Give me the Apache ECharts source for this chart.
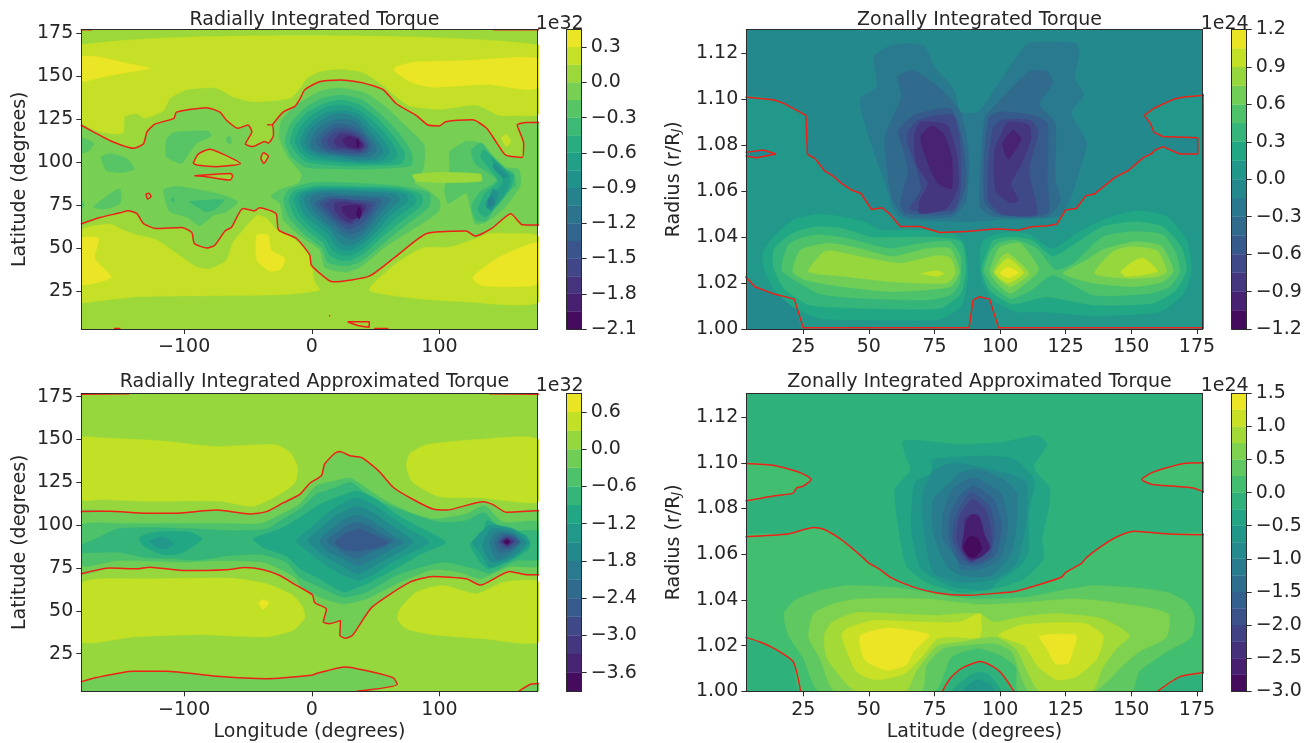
<!DOCTYPE html>
<html><head><meta charset="utf-8">
<style>html,body{margin:0;padding:0;background:#fff}#c{width:1312px;height:743px}</style>
<script src="https://cdn.jsdelivr.net/npm/echarts@6/dist/echarts.min.js"></script></head>
<body><div id="c"></div><script>
// ---------- tick labels and colour levels ----------
const lonTicks=[-100,0,100], latTicks=[25,50,75,100,125,150,175];
const angTicks=[25,50,75,100,125,150,175], radTicks=[1.00,1.02,1.04,1.06,1.08,1.10,1.12];
const tlLevels={lo:-2.1,step:0.15,n:17}, trLevels={lo:-1.2,step:0.15,n:16};
const blLevels={lo:-3.9,step:0.3,n:16}, brLevels={lo:-3,step:0.25,n:18};
const tlCbTicks=[0.3,0,-0.3,-0.6,-0.9,-1.2,-1.5,-1.8,-2.1];
const trCbTicks=[1.2,0.9,0.6,0.3,0,-0.3,-0.6,-0.9,-1.2];
const blCbTicks=[0.6,0,-0.6,-1.2,-1.8,-2.4,-3.0,-3.6];
const brCbTicks=[1.5,1,0.5,0,-0.5,-1,-1.5,-2,-2.5,-3];

// ---------- top-left: filled bands [band index, [[lon,lat],...]] ----------
const tlBase=14;
const tlRegions=[
[15,[[-181,123.4],[-166,117.6],[-148,116.7],[-146.5,126.4],[-137,128],[-131,125.4],[-116,130],[-111,137],[-98,142],[-75,143],[-62,138],[-46,135],[-17,137],[-9,143],[-4,148.6],[6,152.5],[22,154],[40,152],[53,146],[66,138],[77,132.5],[100,130.6],[129,133],[147,127],[160,127],[178,128],[178,168],[-181,168]]],
[16,[[-181,161],[-166,161],[-145,157.4],[-127,154.5],[-145,152],[-166,149],[-181,147]]],
[16,[[65,155],[79,158],[121,159],[178,160],[178,143.4],[168,142],[137,145],[95,143.4],[79,146],[65,152.5]]],
[15,[[-181,60],[-158,64],[-148,60.6],[-138,57.8],[-122,55],[-106,47],[-90,39],[-80,38],[-67,43],[-62,53],[-51,63],[-43,69],[-35,67],[-28,61],[-17,57],[-9,52],[-1,44],[2,31],[6,25.6],[-20,23],[-71,22.3],[-137,21.7],[-170,19],[-181,18.8]]],
[15,[[45,25.6],[66,41],[87,50],[108,50.6],[129,55.6],[139,58.5],[152,58.5],[178,56.5],[178,18.7],[121,18.7],[82,20.7]]],
[16,[[-181,55.6],[-167,55.6],[-170,44],[-157,33],[-181,29]]],
[16,[[-43,57.6],[-34,57.6],[-32,49],[-21,44],[-24,38],[-33,36.6],[-43,43]]],
[16,[[126,33],[145,44],[178,53],[178,29.5],[147,27.5],[132,28.5]]],
[13,[[-181,121.5],[-169,116.7],[-158,112.4],[-140,108],[-132,110.5],[-129,117.6],[-123,122],[-108,125.4],[-106,129],[-82.5,131.6],[-72,129],[-67,124.4],[-58,119.6],[-50,121.5],[-47,117.6],[-52,110.5],[-46,109],[-37,112],[-34,111],[-30,115.7],[-31,121.5],[-22.5,129],[-13,132.5],[-9,137],[-5.5,142],[6,146.7],[22,147.7],[40,146],[56,142],[66,134],[82,127],[91,121.5],[100,121],[105,123.4],[126,124.5],[137,119.6],[145,111],[152,104],[165,102.7],[166,111],[161,121.5],[168,123],[178,123],[178,63.4],[165,63.5],[156,70],[141,61.4],[128,57],[121,60],[90,58.5],[64,44],[45,33.7],[17,30.4],[13,31.4],[-0.3,40],[-1.6,46],[-12,55.6],[-26,60.5],[-28,70],[-41,73.4],[-45,71.7],[-54,73],[-63,62],[-68,60],[-76,51.7],[-82,50],[-92,52.7],[-94,59],[-102,62],[-122,61.4],[-132,64.3],[-137,70],[-144,71.7],[-150,70.5],[-166,67.8],[-181,64]]],
[15,[[148.6,114],[152.5,116],[156,112],[152.5,109]]],
[14,[[-93,99.2],[-89,104.6],[-80,107.5],[-69.5,104.6],[-56,99.2],[-75,97.3],[-90,98.3]]],
[14,[[-92,92],[-64,93.4],[-62,92],[-64,89.5],[-82.5,91.5]]],
[14,[[-40,102],[-38,105.4],[-34,103.5],[-37.6,99.2]]],
[12,[[-114,113],[-109,117],[-81,118],[-79,115],[-90,111],[-98,103],[-102,99],[-114,103]]],
[12,[[-181,114],[-171,111],[-174,107],[-181,105]]],
[12,[[-165,103],[-158,105],[-145,102],[-139,96],[-148,94],[-161,95]]],
[12,[[-171,74],[-153,84],[-150,84],[-150,76],[-163,72.5]]],
[12,[[-116,84],[-106,86],[-75,82],[-58,77],[-67,71],[-77,69],[-88,63],[-98,68],[-111,71],[-115,78]]],
[11,[[-96,77],[-69,78],[-75,73],[-82.5,71],[-90,74]]],
[11,[[-110,79],[-108,79],[-108,77],[-110,77]]],
[12,[[-67,114],[-64,115],[-63,111],[-66,111]]],
[12,[[-181,78],[-178,75],[-181,73]]],
[12,[[-25,76],[-22,66],[-9,57],[6,49],[10,39],[17,37],[27,36],[38,39],[58,51],[77,60],[90,66],[100,72],[100,78],[90,84],[80,88],[85,92],[88,98],[88,110],[72,122],[58,132],[42,140],[22,143],[6,141],[-12,133],[-24,124],[-25,113],[-18,102],[-8,93],[-10,88],[-25,84],[-32,80]]],
[12,[[108,106],[121,112],[133,111],[142,104],[152,97],[162,96],[164,88.6],[163,85.6],[152,74],[137,65],[128,64],[124,74],[121,82],[107,76],[104,84],[108,96]]],
[11,[[125,107],[133,111],[141,103],[150,96],[158,94],[160,86],[158,85.6],[147,78],[137,66],[129,66],[125,74],[131,82],[145,89.5],[128,99]]],
[10,[[135,107],[150,97],[158,92],[156,85],[147,76],[136,68],[130,72],[136,82],[146,89],[132,103]]],
[9,[[140,103],[155,92],[153,84],[140,72],[136,76],[150,89]]],
[8,[[146,82],[141,72],[137,74],[142,84]]],
[7,[[141,80],[143,76],[139,74],[138,78]]],
[8,[[143,99],[153,92],[150,91],[142,97]]],
[14,[[79,92.5],[100,94],[132,93],[133,89],[106,88],[82,89]]],
[11,[[-21,112],[-17,122],[-6,131],[8,137],[24,139],[40,136],[55,127],[68,117],[78,106],[78,98],[50,96],[20,96],[-5,97],[-16,103]]],
[10,[[-17,112],[-13,121],[-3,129],[10,134],[24,136],[38,133],[52,125],[64,115],[73,105],[70,99],[45,98],[20,98],[-4,100],[-12,105]]],
[9,[[-13,112],[-9,120],[0,127],[12,132],[25,133],[37,130],[49,123],[60,114],[67,105],[62,100],[42,99],[20,100],[-2,102],[-9,106]]],
[8,[[-9,112],[-5,119],[3,125],[13,129],[25,130],[36,128],[46,121],[56,113],[61,106],[55,101],[40,100],[20,101],[0,104],[-6,107]]],
[7,[[-5,112],[-2,118],[5,123],[14,127],[26,128],[36,125],[44,119],[52,112],[56,106],[50,102],[38,101],[20,103],[3,105],[-3,108]]],
[6,[[-1,112],[2,117],[8,121],[16,124],[26,125],[35,123],[42,117],[48,112],[51,107],[45,103],[35,103],[20,104],[6,106],[0,108]]],
[5,[[3,112],[6,116],[11,119],[18,122],[27,122],[35,120],[41,116],[46,111],[46,107],[40,104],[30,104],[18,105],[8,107]]],
[4,[[7,112],[11,116],[17,119],[26,120],[34,118],[40,115],[44,110],[42,106],[34,105],[22,106],[11,108]]],
[3,[[12,112],[16,116],[24,118],[33,117],[40,113],[43,109],[38,106],[28,107],[16,108]]],
[2,[[17,112],[22,116],[30,116],[38,113],[41,110],[38,107],[28,108],[20,109]]],
[1,[[24,113],[30,115],[38,112],[40,109],[36,108],[28,109]]],
[0,[[36,114],[37,110],[36,108],[35,110]]],
[11,[[-22,78],[-18,68],[-6,58],[8,50],[12,42],[20,40],[30,40],[40,43],[58,54],[75,64],[92,74],[92,82],[70,86],[30,88],[0,88],[-18,84]]],
[10,[[-18,78],[-13,68],[-3,60],[9,53],[14,46],[22,43],[30,43],[41,47],[56,57],[71,66],[86,75],[86,81],[68,85],[30,86],[2,86],[-14,83]]],
[9,[[-14,78],[-9,69],[0,62],[11,55],[16,49],[23,46],[30,46],[41,50],[54,59],[67,68],[81,76],[80,81],[65,84],[30,85],[4,85],[-11,82]]],
[8,[[-10,78],[-6,70],[3,64],[13,58],[18,52],[24,49],[31,49],[41,53],[52,61],[63,70],[75,77],[74,81],[62,83],[30,84],[6,84],[-7,82]]],
[7,[[-6,78],[-2,71],[6,66],[15,60],[20,55],[25,52],[32,52],[41,56],[50,63],[59,71],[69,78],[66,81],[58,82],[30,83],[8,83],[-4,81]]],
[6,[[-2,77],[2,72],[8,67],[16,62],[22,58],[27,56],[33,55],[41,59],[48,65],[55,72],[62,78],[58,80],[30,81],[10,82],[0,80]]],
[5,[[2,76],[6,72],[12,68],[18,64],[24,60],[30,58],[35,59],[41,62],[46,67],[52,73],[55,78],[50,79],[30,80],[12,80]]],
[4,[[6,76],[10,72],[15,68],[22,64],[28,61],[34,62],[40,65],[45,69],[49,74],[50,77],[30,78],[14,79]]],
[3,[[10,75],[15,71],[20,67],[27,64],[32,64],[38,67],[44,71],[47,75],[40,77],[28,78],[16,78]]],
[2,[[18,72],[24,67],[30,65],[36,68],[42,72],[42,75],[34,76],[24,77],[18,76]]],
[1,[[24,71],[30,67],[36,68],[40,72],[38,75],[30,75],[24,74]]],
[0,[[35,70],[37,67],[39,70],[37,74]]]
];
const tlRed=[
[[-181,121.5],[-169,116.7],[-158,112.4],[-140,108],[-132,110.5],[-129,117.6],[-123,122],[-108,125.4],[-106,129],[-82.5,131.6],[-72,129],[-67,124.4],[-58,119.6],[-50,121.5],[-47,117.6],[-52,110.5],[-46,109],[-37,112],[-34,111],[-30,115.7],[-31,121.5],[-35,121.7]],
[[-31,121.5],[-22.5,129],[-13,132.5],[-9,137],[-5.5,142],[6,146.7],[22,147.7],[40,146],[56,142],[66,134],[82,127],[91,121.5],[100,121],[105,123.4],[126,124.5],[137,119.6],[145,111],[152,104],[165,102.7],[166,111],[161,121.5],[168,123],[178,123]],
[[-181,64],[-166,67.8],[-150,70.5],[-144,71.7],[-137,70],[-132,64.3],[-122,61.4],[-102,62],[-94,59],[-92,52.7],[-82,50],[-76,51.7],[-68,60],[-63,62],[-54,73],[-45,71.7],[-41,73.4],[-28,70],[-26,60.5],[-12,55.6],[-1.6,46],[-0.3,40],[13,31.4],[17,30.4],[45,33.7],[64,44],[90,58.5],[121,60],[128,57],[141,61.4],[156,70],[165,63.5],[178,63.4]],
[[-93,99.2],[-89,104.6],[-80,107.5],[-69.5,104.6],[-56,99.2],[-75,97.3],[-90,98.3],[-93,99.2]],
[[-92,92],[-64,93.4],[-62,92],[-64,89.5],[-82.5,91.5],[-92,92]],
[[-40,102],[-38,105.4],[-34,103.5],[-37.6,99.2],[-40,102]],
[[-130,81.4],[-127.5,81.8],[-126,80],[-128.6,78.5],[-130,81.4]],
[[28,7.2],[45,7.2],[45,4],[36,5],[28,7.2]],
[[49,3.3],[60,3.3]],[[-155,3.3],[-150,3.3]],[[13.5,10.7],[14.5,10.7]],
[[-181,176.8],[-172,176.8]],[[142,176.8],[178,176.8]]
];

// ---------- top-right: [band index, [[latitude,radius],...]] ----------
const trBase=7;
const trRegions=[
[8,[[3,1.101],[14,1.0997],[18,1.098],[26,1.093],[26.6,1.076],[29.4,1.0743],[33,1.069],[36.4,1.0666],[39.6,1.0634],[43.4,1.0605],[47,1.059],[51,1.052],[55,1.0528],[58,1.050],[62,1.0446],[69.4,1.0446],[77,1.042],[87,1.0424],[98.7,1.0437],[107,1.043],[112,1.0445],[118.4,1.045],[121.6,1.0457],[125,1.0518],[129,1.0525],[132.7,1.058],[136,1.0588],[143.8,1.066],[148.9,1.069],[154.6,1.0746],[158,1.0765],[158.6,1.0776],[162,1.0794],[168.5,1.0762],[175.3,1.0762],[175.3,1.0833],[162,1.0838],[158.6,1.0857],[157.4,1.0893],[155,1.093],[158.5,1.096],[166,1.100],[170,1.101],[178,1.1018],[178,1.0],[99.4,1.0],[96,1.013],[92,1.014],[89.7,1.0126],[88.2,1.0],[25,1.0],[21.6,1.013],[14,1.0152],[6.6,1.0184],[3,1.0228]]],
[7,[[3,1.0769],[9.8,1.0779],[14.6,1.0762],[7.2,1.0746],[3,1.0753]]],
[9,[[9.8,1.034],[13.6,1.040],[21,1.0475],[30,1.050],[39,1.049],[48,1.0467],[55,1.043],[63,1.043],[72,1.043],[82,1.0416],[86.5,1.0366],[87.8,1.0228],[85,1.0097],[76,1.004],[46.6,1.004],[31,1.0046],[21,1.0097],[14,1.017],[9.8,1.027]]],
[10,[[14,1.035],[21,1.0417],[30,1.0445],[40,1.0438],[51,1.040],[62,1.040],[76,1.040],[85,1.038],[87,1.027],[85,1.0155],[77,1.009],[46.5,1.009],[27.5,1.0104],[17.5,1.018],[13.6,1.027]]],
[11,[[17,1.0286],[19.3,1.0366],[24,1.0395],[31,1.041],[41.5,1.0395],[58,1.035],[69.4,1.0372],[81,1.038],[85,1.0315],[84.6,1.020],[81,1.0148],[72,1.0126],[46.6,1.0134],[31,1.0155],[17,1.025]]],
[12,[[21,1.025],[24,1.0344],[35,1.0373],[46.6,1.035],[59,1.0315],[72,1.035],[81,1.035],[84.6,1.025],[81,1.0184],[59,1.0163],[40,1.0184],[26,1.0213]]],
[13,[[27,1.025],[32.6,1.0334],[36.4,1.034],[49,1.031],[62,1.0286],[76,1.032],[81,1.031],[83,1.0242],[79.6,1.020],[59,1.0206],[41.5,1.0228]]],
[14,[[70,1.0242],[76,1.0254],[78.6,1.0242],[76,1.023]]],
[9,[[92.4,1.033],[93.7,1.0387],[100,1.0416],[110,1.0416],[120,1.035],[129,1.0416],[139,1.0475],[152,1.0515],[163.5,1.049],[171,1.0387],[173,1.0257],[170,1.0155],[161,1.0075],[135.5,1.0057],[116.5,1.0075],[106,1.0075],[97.5,1.0126],[93,1.0213]]],
[10,[[95,1.033],[97.5,1.0387],[104,1.040],[112,1.0387],[120,1.0316],[128,1.0366],[139,1.0445],[152,1.0467],[162,1.0445],[169,1.0358],[171,1.0257],[167,1.0170],[158,1.0112],[135.5,1.0104],[118,1.014],[110,1.012],[104,1.011],[96,1.017],[93,1.0257]]],
[11,[[96,1.033],[99,1.0373],[106,1.0387],[114,1.035],[121,1.0257],[128,1.0286],[139,1.040],[151,1.0424],[162,1.041],[167,1.033],[168.5,1.025],[164.7,1.0184],[157,1.0155],[135.5,1.0148],[120,1.0235],[112,1.017],[104,1.0133],[97.5,1.0184],[94,1.025]]],
[12,[[97.5,1.030],[100,1.0358],[107.6,1.0373],[114.6,1.027],[114,1.0242],[104,1.0155],[98.7,1.020],[96,1.025]]],
[12,[[124,1.0242],[133,1.030],[139,1.0344],[151,1.038],[161,1.0366],[164,1.0315],[166,1.025],[162,1.0206],[151,1.0184],[135.5,1.020]]],
[13,[[97.5,1.025],[100.6,1.0315],[103,1.033],[111,1.0242],[104,1.0184],[100,1.021]]],
[13,[[136,1.0242],[143,1.0337],[149.5,1.0358],[160,1.034],[163.5,1.025],[160,1.0228],[149,1.022]]],
[14,[[98,1.0245],[103,1.0308],[109,1.0245],[103,1.020]]],
[15,[[100,1.0245],[103,1.027],[107,1.0245],[103,1.0223]]],
[14,[[146,1.025],[152,1.0303],[155,1.0308],[160,1.025],[148,1.0228]]],
[6,[[46.6,1.100],[53,1.1055],[52,1.1186],[59,1.1236],[70.7,1.1236],[75,1.114],[82,1.105],[85,1.0946],[90.3,1.094],[92.4,1.0953],[96,1.101],[106,1.118],[111,1.1245],[129,1.1244],[130,1.120],[128.5,1.109],[132,1.102],[127,1.094],[133,1.081],[130,1.068],[126.6,1.056],[122,1.049],[97.5,1.0475],[87,1.0467],[63,1.048],[59,1.0525],[58,1.0576],[50.4,1.0823]]],
[5,[[61,1.1098],[67,1.1125],[78,1.104],[85,1.094],[88,1.0765],[87,1.056],[82,1.049],[64,1.049],[58.6,1.0576],[56,1.0823],[58,1.0895],[62.4,1.101]]],
[5,[[94.3,1.0924],[97.5,1.0968],[111,1.112],[118,1.112],[120,1.107],[115,1.098],[121,1.0895],[121,1.065],[123,1.056],[118,1.049],[97.5,1.049],[92.4,1.053],[93,1.078]]],
[4,[[61,1.086],[67,1.093],[81,1.096],[85,1.085],[87,1.0706],[86.5,1.0605],[82,1.0504],[64,1.0504],[62,1.0547],[65,1.069],[62,1.082]]],
[4,[[96,1.0924],[101,1.0946],[113,1.093],[118,1.0895],[118,1.065],[118,1.0504],[100,1.0496],[94.3,1.0547],[94,1.075]]],
[3,[[64.6,1.0852],[69,1.091],[82,1.0932],[84.6,1.0823],[85,1.062],[82.5,1.052],[65.6,1.052],[69.9,1.0605],[68.5,1.069],[65,1.080]]],
[3,[[97.5,1.088],[101,1.091],[111.4,1.091],[114.6,1.086],[111,1.069],[114,1.050],[101,1.050],[95.6,1.056],[95.6,1.0736]]],
[2,[[67.5,1.0852],[70,1.090],[79.6,1.0888],[83.4,1.0765],[84,1.062],[79.6,1.0525],[69.4,1.0504],[69.4,1.056],[72.6,1.0634],[68,1.072]]],
[2,[[98,1.078],[100.6,1.0852],[103,1.090],[111,1.0888],[111.7,1.0823],[107.6,1.0707],[104,1.063],[107,1.056],[103.8,1.055],[98.4,1.060]]],
[1,[[69.7,1.0837],[74,1.0884],[78.3,1.0852],[81.5,1.075],[81.5,1.0612],[76.4,1.0634],[73,1.0707]]],
[1,[[101,1.0808],[105,1.0866],[108,1.083],[106.3,1.0787],[103,1.074]]]
];
const trRed=[
[[3,1.101],[14,1.0997],[18,1.098],[26,1.093],[26.6,1.076],[29.4,1.0743],[33,1.069],[36.4,1.0666],[39.6,1.0634],[43.4,1.0605],[47,1.059],[51,1.052],[55,1.0528],[58,1.050],[62,1.0446],[69.4,1.0446],[77,1.042],[87,1.0424],[98.7,1.0437],[107,1.043],[112,1.0445],[118.4,1.045],[121.6,1.0457],[125,1.0518],[129,1.0525],[132.7,1.058],[136,1.0588],[143.8,1.066],[148.9,1.069],[154.6,1.0746],[158,1.0765],[158.6,1.0776],[162,1.0794],[168.5,1.0762],[175.3,1.0762],[175.3,1.0833],[162,1.0838],[158.6,1.0857],[157.4,1.0893],[155,1.093],[158.5,1.096],[166,1.100],[170,1.101],[178,1.1018]],
[[3,1.0228],[6.6,1.0184],[14,1.0152],[21.6,1.013],[25,1.0005],[88.2,1.0005],[89.7,1.0126],[92,1.014],[96,1.013],[99.4,1.0005],[178,1.0005]],
[[3,1.0769],[9.8,1.0779],[14.6,1.0762],[7.2,1.0746],[3,1.0753]]
];

// ---------- bottom-left: [band index, [[lon,lat],...]] ----------
const blBase=13;
const blRegions=[
[14,[[-181,150.7],[-166,151],[-114,149],[-77,146],[-28,147],[-17,142.4],[-11,133.7],[-13,125],[-25,118],[-46,111],[-72,114],[-132,114],[-166,115],[-181,115]]],
[14,[[74,134.6],[77,142],[90,147],[129,150],[178,150],[178,114],[155,114],[132,116],[100,116.6],[79,125]]],
[14,[[-181,65.8],[-166,68.7],[-132,68.7],[-62,69],[-35.5,65.8],[-14.6,59],[-7,52],[-5.5,46],[-14.6,38.6],[-35.5,34.7],[-88,36],[-140,34.7],[-181,32]]],
[15,[[-41.5,54.7],[-37.6,56.6],[-33.7,54.5],[-38,50.8]]],
[14,[[67,45.4],[69,51],[82,61],[103,64.8],[129,60],[150,66.7],[178,66.7],[178,32],[134,33.7],[95,36],[74,39.5]]],
[12,[[-181,108],[-158.5,108.2],[-129.5,107],[-108.6,107],[-74.6,108.8],[-48.5,106.5],[-35.5,107.9],[-22.5,113],[-9.4,118],[-1.6,124.5],[7.6,129],[10,135.6],[18,142],[22,143],[30,140.5],[39,139.5],[52,132],[64,122],[79.4,115],[95,109.4],[105.5,108.8],[134,113.7],[142,112],[152.5,107.5],[178,108.5],[178,71],[168.5,71],[155,73],[132,65],[121,68.7],[95,70],[77,66.7],[47,52],[32,35.7],[26,34],[22,35.7],[22.5,44.4],[14,42.5],[9,43.4],[11.5,51],[2.3,54.7],[0.5,59.3],[-12,64.8],[-25,70.6],[-38,74],[-52.5,75.3],[-67,74],[-101,73.5],[-127,75.5],[-137,74.5],[-158,75],[-181,71.6]]],
[12,[[-181,8.5],[-169,11],[-140,14.7],[-114,14.7],[-75,11.8],[-35.5,10.4],[0,12.4],[3.6,13.4],[26,17.2],[45,14.7],[64,10.8],[67,7],[35,2],[-181,2]]],
[12,[[162,2],[171,7],[178,7.5],[178,2]]],
[11,[[-181,100],[-150,101],[-110,101],[-70,101],[-40,101],[-25,106],[-10,112],[3.6,123],[19,126],[30,127.5],[42,122],[56,115],[77,107.5],[95,103.6],[121,106.5],[135.5,111.4],[150,101.7],[178,101.7],[178,76.4],[155,75.8],[132,68.7],[116,72.5],[95,74],[69,66.7],[43,57],[24.5,54],[6,58],[-9,64.8],[-12,68.7],[-25,74.5],[-38,78.4],[-75,79.3],[-101,78.4],[-153,79.3],[-181,76.4]]],
[10,[[-181,88],[-169,92],[-153,97.8],[-127,98.7],[-88,97.8],[-62,96.8],[-35.5,97.8],[-22.5,103.6],[-9,109.4],[3.6,118],[19,122],[30,125],[42,119],[56,113],[82,105.6],[100,101.6],[121,102.6],[135,107.4],[147,97.8],[160,96.8],[178,96],[178,80.3],[160,79.3],[139.4,72],[128,74.5],[103,78.4],[69,71.6],[43,61],[24.5,58],[6,64],[-9.4,69.6],[-20,78.4],[-40.7,83],[-67,82],[-90,79.5],[-110,80.5],[-130,81],[-150,84],[-170,84],[-181,84]]],
[9,[[-135,93],[-122,96],[-96,96],[-86,92],[-101,84],[-116,82.6],[-132,88]]],
[8,[[-127,91],[-116,93],[-108,89],[-116,86],[-124,88]]],
[9,[[-46,92],[-25,97.8],[-9,104.6],[6,112],[19,116],[35,120],[50.6,115],[66,106.5],[82,99.7],[105,90],[85,83],[69,76],[43,65.7],[36,63.8],[24.5,61],[6,68.7],[-9,74.5],[-20,82],[-38,87]]],
[9,[[124,89],[134,95],[137,102.6],[147,99.7],[168,94],[171,87],[160,81],[139,74.5],[132,78.4]]],
[8,[[-12,91],[0,99],[12,107],[25,113],[36,116],[48,112],[60,106],[75,98],[92,90],[75,83],[60,77],[48,71],[36,67.7],[24,71],[10,77],[-2,84]]],
[7,[[-3,91],[8,99],[20,106],[36,111],[48,107],[60,101],[70,96],[79,90],[68,84],[55,79],[36,71.6],[22,77],[8,83]]],
[6,[[6,91],[14,97],[24,103],[36,106],[46,103],[56,98],[65,93],[72,90],[62,86],[50,81],[36,76.4],[24,81],[12,85]]],
[5,[[12,91],[20,96],[28,100],[36,101.7],[45,99.5],[54,95],[64,91],[56,87],[46,84.5],[36,80.5],[25,83.5]]],
[4,[[18,90],[26,95],[36,97.8],[44,96],[52,93],[60,90],[52,87],[44,86],[36,85],[26,85.5]]],
[8,[[126,90],[139,99.7],[158,97.8],[171,90],[158,81],[139.5,75.4],[133,83]]],
[7,[[135.5,92],[141,97.8],[156,96.8],[168,90],[158,82],[141,78.4],[134,87]]],
[6,[[139,90],[145,96],[158,95],[164,90],[155,83],[145,80]]],
[5,[[143,90],[148.6,95],[158,94],[163,90],[155,85],[147,84]]],
[4,[[146,90],[151,94],[158,93],[162,90],[155,86.5],[148.6,86.5]]],
[3,[[147,90.5],[153,93],[159,91],[154,87]]],
[2,[[148.6,90.5],[153,92.7],[158,90.5],[153,88]]],
[1,[[150,90.5],[153,92],[156,90.5],[153,88.5]]],
[0,[[150.5,90],[153,91.5],[155,90],[153,89]]]
];
const blRed=[
[[-181,108],[-158.5,108.2],[-129.5,107],[-108.6,107],[-74.6,108.8],[-48.5,106.5],[-35.5,107.9],[-22.5,113],[-9.4,118],[-1.6,124.5],[7.6,129],[10,135.6],[18,142],[22,143],[30,140.5],[39,139.5],[52,132],[64,122],[79.4,115],[95,109.4],[105.5,108.8],[134,113.7],[142,112],[152.5,107.5],[178,108.5]],
[[-181,71.6],[-158,75],[-137,74.5],[-127,75.5],[-101,73.5],[-67,74],[-52.5,75.3],[-38,74],[-25,70.6],[-12,64.8],[0.5,59.3],[2.3,54.7],[11.5,51],[9,43.4],[14,42.5],[22.5,44.4],[22,35.7],[26,34],[32,35.7],[47,52],[77,66.7],[95,70],[121,68.7],[132,65],[155,73],[168.5,71],[178,71]],
[[-181,8.5],[-169,11],[-140,14.7],[-114,14.7],[-75,11.8],[-35.5,10.4],[0,12.4],[3.6,13.4],[26,17.2],[45,14.7],[64,10.8],[67,7],[35,3]],
[[162,3],[171,7],[178,7.5]],
[[-181,176.5],[-143,176.7]],[[139,176.7],[178,176.5]]
];

// ---------- bottom-right: [band index, [[latitude,radius],...]] ----------
const brBase=11;
const brRegions=[
[12,[[3,1.0997],[14,1.0988],[24,1.0956],[28,1.0927],[25,1.0898],[22.5,1.089],[21,1.0866],[13.6,1.0855],[3,1.0833]]],
[12,[[178,1.100],[170,1.0997],[163.5,1.0978],[157.7,1.0956],[154,1.0927],[158,1.0905],[166,1.0898],[173.6,1.089],[178,1.087]]],
[12,[[3,1.0676],[19,1.0688],[29,1.0717],[32.6,1.071],[39.6,1.0663],[47,1.0593],[50,1.0561],[54,1.0535],[58.6,1.0496],[67,1.0456],[76,1.043],[87,1.042],[100,1.043],[106,1.0438],[115,1.0467],[123.5,1.05],[125,1.052],[131,1.056],[133,1.0586],[138,1.063],[144,1.0673],[151,1.07],[165,1.0688],[178,1.0685],[178,1.0083],[168.5,1.0064],[160,1.0],[105.3,1.0],[100.6,1.0078],[97.5,1.0107],[92.4,1.013],[85.3,1.01],[81,1.0057],[78,1.0],[24,1.0],[21.2,1.0129],[14,1.0187],[8.5,1.0216],[3,1.0236]]],
[10,[[82,1.0],[88.6,1.007],[92.4,1.0085],[96,1.007],[100,1.0]]],
[9,[[86,1.0],[91,1.005],[96,1.003],[98,1.0]]],
[13,[[31,1.0],[25,1.0144],[19.3,1.0245],[17.6,1.034],[22,1.04],[31,1.044],[41.5,1.0463],[59,1.0456],[72,1.0434],[88,1.0405],[110,1.0412],[123,1.0441],[135.5,1.0463],[148,1.0456],[163.5,1.0434],[171,1.039],[174,1.0332],[173,1.0238],[163.5,1.0173],[153,1.0086],[150,1.0],[107,1.0],[106,1.0107],[100,1.0158],[92,1.0187],[85,1.017],[81,1.0144],[75,1.0]]],
[14,[[37,1.0],[31.3,1.0144],[27,1.0238],[29,1.034],[36.4,1.0383],[46.6,1.0405],[72,1.0405],[92,1.038],[110,1.039],[129,1.0405],[147,1.0383],[164,1.034],[163.5,1.0238],[153,1.0173],[147,1.0115],[136,1.0],[111,1.0],[104.4,1.0173],[97.5,1.021],[85,1.02],[78.3,1.0187],[72,1.0115],[70,1.0]]],
[15,[[45,1.0],[34,1.0144],[33,1.0245],[36,1.0303],[45,1.0344],[59,1.034],[76,1.0332],[84.6,1.034],[92.3,1.034],[97.5,1.0303],[107.6,1.0325],[121.6,1.034],[139,1.0318],[149.5,1.0245],[144.4,1.0187],[139,1.010],[135,1.0],[115,1.0],[106,1.0187],[98,1.0238],[84.6,1.0216],[76,1.020],[68,1.0086],[64,1.0]]],
[16,[[39.6,1.0245],[41.5,1.0274],[51.6,1.031],[70.7,1.0303],[84.6,1.0303],[92.3,1.034],[92.3,1.0238],[82,1.0238],[76,1.023],[70.7,1.0158],[63.7,1.0078],[53,1.005],[45.3,1.0086]]],
[17,[[46.6,1.0242],[56.7,1.0277],[65.6,1.0267],[73,1.0245],[67,1.0173],[64.3,1.0115],[56.7,1.0093],[48.5,1.0136]]],
[16,[[99.4,1.0245],[107.6,1.0289],[120,1.030],[133,1.0295],[139.3,1.0242],[137,1.0144],[129,1.0064],[121.6,1.005],[114.6,1.0107],[109,1.020]]],
[17,[[115,1.0242],[129,1.0245],[127.3,1.0158],[126,1.0122],[121,1.0122],[117.8,1.0187]]],
[10,[[63,1.1094],[69.4,1.1098],[84.6,1.108],[101,1.109],[114,1.1119],[118,1.108],[113,1.0993],[113.3,1.0964],[118.8,1.089],[118.4,1.0797],[116,1.0666],[116.6,1.058],[109,1.0492],[97.5,1.0448],[85,1.0433],[72,1.0477],[64.3,1.055],[61,1.0738],[60,1.0884],[66,1.097],[64,1.103]]],
[9,[[74.5,1.1014],[73.9,1.0956],[67.5,1.0913],[66.2,1.071],[70,1.0535],[82,1.0456],[96,1.0445],[98.7,1.0477],[107.6,1.0548],[110.8,1.0608],[110.8,1.078],[113,1.092],[105.7,1.1014],[97.5,1.103],[85,1.1026]]],
[8,[[74.5,1.0963],[82,1.10],[91,1.0985],[103.8,1.095],[110,1.0913],[110,1.0753],[106.3,1.0563],[97.5,1.049],[85,1.0477],[74.5,1.052],[70.7,1.0724],[70.7,1.087]]],
[7,[[81,1.0913],[84.6,1.0956],[92.3,1.097],[101.3,1.0927],[106.3,1.087],[106.3,1.0724],[103.8,1.0593],[96.2,1.0506],[85,1.0506],[79.6,1.055],[74.5,1.0695],[74.5,1.084]]],
[6,[[78.3,1.078],[82,1.0884],[89,1.0934],[92.4,1.0927],[100.6,1.086],[103,1.0724],[100,1.058],[92.4,1.0535],[85,1.0535],[83.4,1.058],[78.3,1.0666]]],
[5,[[80.8,1.0768],[84.6,1.0855],[89.7,1.0898],[97.5,1.084],[100.6,1.0724],[98,1.0593],[91,1.055],[84.6,1.0564],[80.8,1.0652]]],
[4,[[82.7,1.0753],[86.5,1.084],[89,1.087],[96,1.081],[98,1.0695],[96,1.059],[90,1.056],[85,1.0586],[82,1.0666]]],
[3,[[84.6,1.0768],[89.7,1.084],[95,1.078],[96.8,1.0637],[93,1.0593],[88.5,1.0564],[85.3,1.0608],[83.4,1.0666]]],
[2,[[86.5,1.0753],[89,1.0775],[92.4,1.076],[94.3,1.068],[96.2,1.063],[93,1.0593],[89,1.0572],[85.3,1.0622],[86.5,1.0695]]],
[1,[[87,1.0738],[89,1.0772],[91.8,1.0768],[93.7,1.0695],[96,1.0625],[92.4,1.0586],[88.5,1.058],[85.7,1.063]]],
[0,[[86,1.063],[88.5,1.0678],[91.6,1.067],[93,1.0625],[90.4,1.0586],[87.8,1.0593]]]
];
const brRed=[
[[3,1.0997],[14,1.0988],[24,1.0956],[28,1.0927],[25,1.0898],[22.5,1.089],[21,1.0866],[13.6,1.0855],[3,1.0833]],
[[178,1.100],[170,1.0997],[163.5,1.0978],[157.7,1.0956],[154,1.0927],[158,1.0905],[166,1.0898],[173.6,1.089],[178,1.087]],
[[3,1.0676],[19,1.0688],[29,1.0717],[32.6,1.071],[39.6,1.0663],[47,1.0593],[50,1.0561],[54,1.0535],[58.6,1.0496],[67,1.0456],[76,1.043],[87,1.042],[100,1.043],[106,1.0438],[115,1.0467],[123.5,1.05],[125,1.052],[131,1.056],[133,1.0586],[138,1.063],[144,1.0673],[151,1.07],[165,1.0688],[178,1.0685]],
[[3,1.0236],[8.5,1.0216],[14,1.0187],[21.2,1.0129],[24,1.0]],
[[78,1.0],[81,1.0057],[85.3,1.01],[92.4,1.013],[97.5,1.0107],[100.6,1.0078],[105.3,1.0]],
[[160,1.0],[168.5,1.0064],[178,1.0083]]
];

// ---------- drawing ----------
const stops=['#440154','#482475','#414487','#355f8d','#2a788e','#21918c','#22a884','#44bf70','#7ad151','#bddf26','#fde725'];
function lerpHex(a,b,t){const p=(h,i)=>parseInt(h.substr(i,2),16);
  const c=[1,3,5].map(i=>Math.round(p(a,i)+(p(b,i)-p(a,i))*t));return 'rgb('+c.join(',')+')';}
function palette(n){const out=[];for(let i=0;i<n;i++){const f=(i+0.5)/n*10,k=Math.min(9,Math.floor(f));out.push(lerpHex(stops[k],stops[k+1],f-k));}return out;}
const FONT='"DejaVu Sans"', FS=19, INK='#262626';
const minus=s=>String(s).replace('-','\u2212');
const panels=[
 {title:'Radially Integrated Torque',exp:'1e32',l:81.3,t:29.5,h:299.5,cbl:566.7,xr:[-180.6,177],yr:[3,177],xt:lonTicks,yt:latTicks,lv:tlLevels,cb:tlCbTicks,base:tlBase,reg:tlRegions,red:tlRed,yn:'Latitude (degrees)',yd:0,tit:5.5,ex:9.5,rs:0.2},
 {title:'Zonally Integrated Torque',exp:'1e24',l:746.3,t:29.5,h:299.5,cbl:1231.7,xr:[3.3,177.2],yr:[1,1.1304],xt:angTicks,yt:radTicks,lv:trLevels,cb:trCbTicks,base:trBase,reg:trRegions,red:trRed,yn:'Radius (r/R{j|J})',yd:2,tit:5.5,ex:9.5,rs:0},
 {title:'Radially Integrated Approximated Torque',exp:'1e32',l:81.3,t:393.3,h:298,cbl:566.7,xr:[-180.6,177],yr:[3,177],xt:lonTicks,yt:latTicks,lv:blLevels,cb:blCbTicks,base:blBase,reg:blRegions,red:blRed,yn:'Latitude (degrees)',yd:0,xn:'Longitude (degrees)',tit:368,ex:372,rs:0.2},
 {title:'Zonally Integrated Approximated Torque',exp:'1e24',l:746.3,t:393.3,h:298,cbl:1231.7,xr:[3.3,177.2],yr:[1,1.1304],xt:angTicks,yt:radTicks,lv:brLevels,cb:brCbTicks,base:brBase,reg:brRegions,red:brRed,yn:'Radius (r/R{j|J})',yd:2,xn:'Latitude (degrees)',tit:368,ex:372,rs:0.2}
];
const grid=[],xAxis=[],yAxis=[],series=[],title=[];
const lineS={color:'#2b2b2b',width:1};
panels.forEach((p,k)=>{
  const g=grid.length, cols=palette(p.lv.n), w=456.4;
  grid.push({left:p.l,top:p.t,width:w,height:p.h,show:true,borderWidth:0,backgroundColor:cols[p.base]});
  const xi=xAxis.length, yi=yAxis.length;
  xAxis.push({gridIndex:g,type:'value',min:p.xr[0],max:p.xr[1],position:'bottom',z:9,
    name:p.xn||'',nameLocation:'middle',nameGap:31,nameTextStyle:{fontFamily:FONT,fontSize:FS,color:INK},
    axisLine:{show:true,onZero:false,lineStyle:lineS},axisTick:{show:true,length:5,lineStyle:lineS,customValues:p.xt},
    axisLabel:{show:true,margin:9,fontFamily:FONT,fontSize:FS,color:INK,customValues:p.xt,formatter:v=>minus(v)},splitLine:{show:false}});
  xAxis.push({gridIndex:g,type:'value',min:p.xr[0],max:p.xr[1],position:'top',z:9,axisLine:{show:true,onZero:false,lineStyle:lineS},axisTick:{show:false},axisLabel:{show:false},splitLine:{show:false}});
  yAxis.push({gridIndex:g,type:'value',min:p.yr[0],max:p.yr[1],position:'left',z:9,
    name:p.yn,nameLocation:'middle',nameGap:p.yd?63:52,nameRotate:90,
    nameTextStyle:{fontFamily:FONT,fontSize:FS,color:INK,rich:{j:{fontFamily:FONT,fontSize:13,fontStyle:'italic',color:INK,verticalAlign:'bottom',padding:[6,0,0,0]}}},
    axisLine:{show:true,onZero:false,lineStyle:lineS},axisTick:{show:true,length:5,lineStyle:lineS,customValues:p.yt},
    axisLabel:{show:true,margin:8,padding:[3,0,0,0],fontFamily:FONT,fontSize:FS,color:INK,customValues:p.yt,formatter:v=>Number(v).toFixed(p.yd)},splitLine:{show:false}});
  yAxis.push({gridIndex:g,type:'value',min:p.yr[0],max:p.yr[1],position:'right',z:9,axisLine:{show:true,onZero:false,lineStyle:lineS},axisTick:{show:false},axisLabel:{show:false},splitLine:{show:false}});
  series.push({type:'custom',coordinateSystem:'cartesian2d',xAxisIndex:xi,yAxisIndex:yi,clip:true,silent:true,animation:false,z:2,
    data:p.reg.map((r,i)=>[p.xr[0],p.yr[0],i]),
    encode:{x:0,y:1},
    renderItem:(params,api)=>{const r=p.reg[params.dataIndex];
      return {type:'polygon',shape:{points:r[1].map(q=>api.coord(q)),smooth:0.2},style:{fill:cols[r[0]],stroke:cols[r[0]],lineWidth:0.4}};}});
  p.red.forEach(line=>series.push({type:'line',xAxisIndex:xi,yAxisIndex:yi,data:line,showSymbol:false,symbol:'none',silent:true,animation:false,clip:true,z:3,smooth:p.rs,lineStyle:{color:'#ee2018',width:1.5}}));
  title.push({text:p.title,left:p.l+w/2,top:p.tit,textAlign:'center',textStyle:{fontFamily:FONT,fontSize:FS,fontWeight:'normal',color:INK}});
  title.push({text:p.exp,left:p.cbl+12,top:p.ex,textAlign:'right',textStyle:{fontFamily:FONT,fontSize:FS,fontWeight:'normal',color:INK}});
  // colour bar
  const cg=grid.length, lo=p.lv.lo, st=p.lv.step, hi=lo+st*p.lv.n;
  grid.push({left:p.cbl,top:p.t,width:15,height:p.h,show:false});
  const cx=xAxis.length, cy=yAxis.length;
  xAxis.push({gridIndex:cg,type:'value',min:0,max:1,position:'bottom',z:9,axisLine:{show:true,onZero:false,lineStyle:lineS},axisTick:{show:false},axisLabel:{show:false},splitLine:{show:false}});
  xAxis.push({gridIndex:cg,type:'value',min:0,max:1,position:'top',z:9,axisLine:{show:true,onZero:false,lineStyle:lineS},axisTick:{show:false},axisLabel:{show:false},splitLine:{show:false}});
  yAxis.push({gridIndex:cg,type:'value',min:lo,max:hi,position:'right',z:9,
    axisLine:{show:true,onZero:false,lineStyle:lineS},axisTick:{show:true,length:5,lineStyle:lineS,customValues:p.cb},
    axisLabel:{show:true,margin:9,padding:[3,0,0,0],fontFamily:FONT,fontSize:FS,color:INK,customValues:p.cb,formatter:v=>minus(Number(v).toFixed(1))},splitLine:{show:false}});
  yAxis.push({gridIndex:cg,type:'value',min:lo,max:hi,position:'left',z:9,axisLine:{show:true,onZero:false,lineStyle:lineS},axisTick:{show:false},axisLabel:{show:false},splitLine:{show:false}});
  series.push({type:'custom',coordinateSystem:'cartesian2d',xAxisIndex:cx,yAxisIndex:cy,clip:true,silent:true,animation:false,z:2,
    data:cols.map((c,i)=>[0,lo+st*i,i]),encode:{x:0,y:1},
    renderItem:(params,api)=>{const i=params.dataIndex,a=api.coord([0,lo+st*i]),b=api.coord([1,lo+st*(i+1)]);
      return {type:'rect',shape:{x:a[0],y:b[1],width:b[0]-a[0],height:a[1]-b[1]},style:{fill:cols[i],stroke:cols[i],lineWidth:0.3}};}});
});
const chart=echarts.init(document.getElementById('c'),null,{renderer:'canvas'});
chart.setOption({animation:false,backgroundColor:'#fff',title,grid,xAxis,yAxis,series});
</script></body></html>
